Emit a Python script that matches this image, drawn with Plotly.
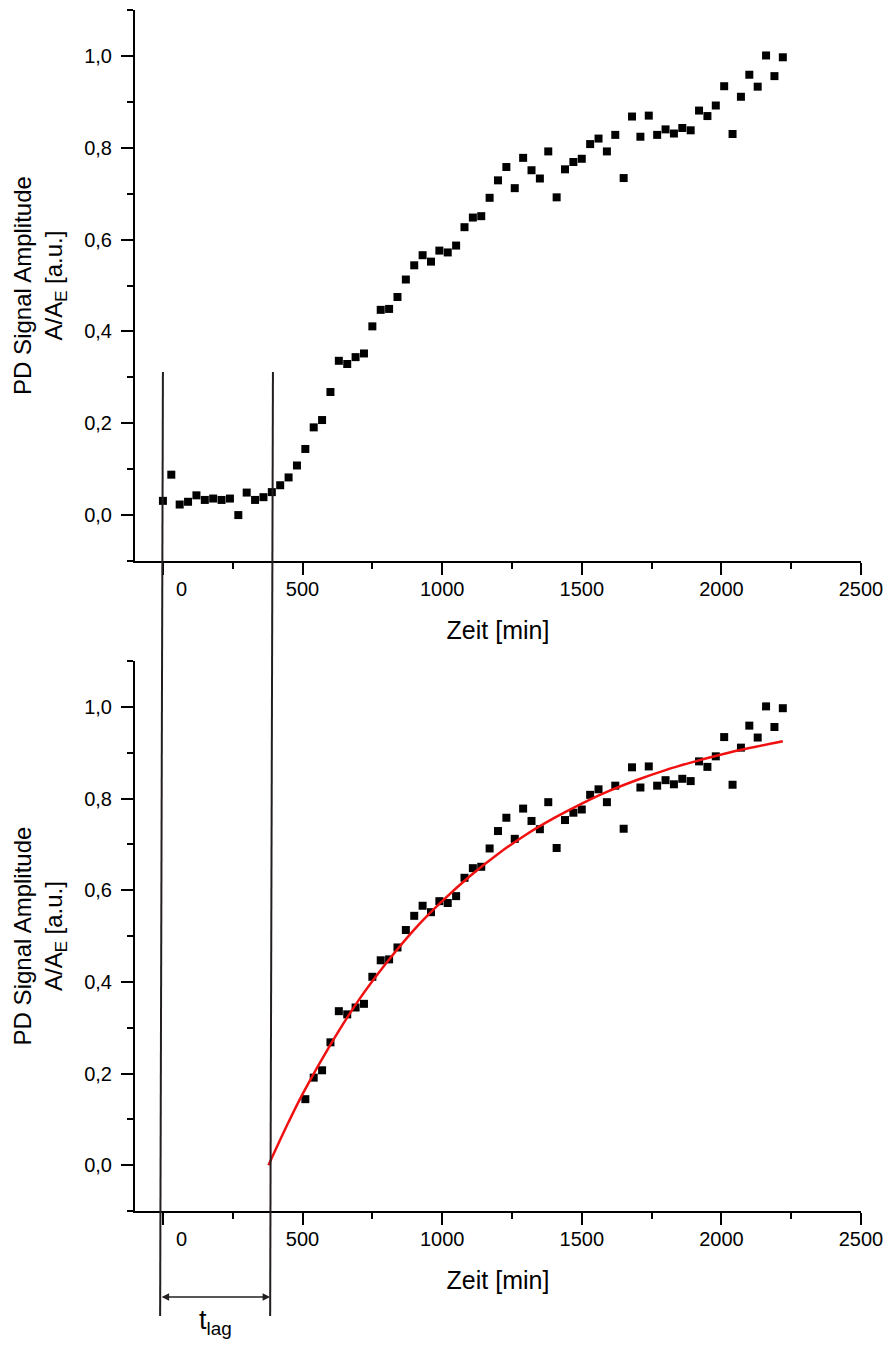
import plotly.graph_objects as go

# ---------------- data ----------------
time_min = [0, 30, 60, 90, 120, 150, 180, 210, 240, 270,
            300, 330, 360, 390, 420, 450, 480, 510, 540, 570,
            600, 630, 660, 690, 720, 750, 780, 810, 840, 870,
            900, 930, 960, 990, 1020, 1050, 1080, 1110, 1140, 1170,
            1200, 1230, 1260, 1290, 1320, 1350, 1380, 1410, 1440, 1470,
            1500, 1530, 1560, 1590, 1620, 1650, 1680, 1710, 1740, 1770,
            1800, 1830, 1860, 1890, 1920, 1950, 1980, 2010, 2040, 2070,
            2100, 2130, 2160, 2190, 2220]
amplitude = [0.031, 0.088, 0.023, 0.029, 0.043, 0.033, 0.036, 0.033, 0.036, 0.000,
             0.049, 0.033, 0.039, 0.050, 0.065, 0.082, 0.108, 0.144, 0.191, 0.207,
             0.268, 0.336, 0.329, 0.344, 0.352, 0.411, 0.447, 0.449, 0.475, 0.513,
             0.544, 0.566, 0.552, 0.576, 0.572, 0.587, 0.627, 0.648, 0.651, 0.691,
             0.729, 0.758, 0.712, 0.778, 0.751, 0.733, 0.792, 0.692, 0.753, 0.769,
             0.776, 0.808, 0.820, 0.792, 0.828, 0.734, 0.868, 0.824, 0.870, 0.828,
             0.840, 0.831, 0.843, 0.838, 0.881, 0.869, 0.892, 0.934, 0.830, 0.911,
             0.959, 0.933, 1.001, 0.956, 0.997]

# fitted curve (red)
fit_time = [378, 450, 500, 600, 700, 800, 900, 1000, 1100, 1200, 1300,
            1400, 1500, 1600, 1700, 1800, 1900, 2000, 2100, 2220]
fit_amp = [0.000, 0.094, 0.155, 0.263, 0.359, 0.441, 0.514, 0.576, 0.631, 0.679, 0.721,
           0.757, 0.789, 0.817, 0.841, 0.862, 0.880, 0.896, 0.910, 0.925]

fit_from = 500  # lower panel shows the points after the lag phase

# lag markers (x at top end / bottom end of the drawn lines)
lag_line_top = [0, 394]
lag_line_bottom = [-10, 384]

x_tickvals = [0, 500, 1000, 1500, 2000, 2500]
x_ticktext = ["", "500", "1000", "1500", "2000", "2500"]
zero_label_x = 65
y_tickvals = [0.0, 0.2, 0.4, 0.6, 0.8, 1.0]
y_ticktext = ["0,0", "0,2", "0,4", "0,6", "0,8", "1,0"]

x_title = "Zeit [min]"
y_title = "PD Signal Amplitude<br>A/A<sub>E</sub> [a.u.]"

# ---------------- figure ----------------
FONT = "Liberation Sans, Arial, sans-serif"
W, H = 893, 1349
ML, MR, MT, MB = 135, 32, 10, 138

low_t = [t for t in time_min if t >= fit_from]
low_a = [a for t, a in zip(time_min, amplitude) if t >= fit_from]

fig = go.Figure()
marker = dict(symbol="square", size=8, color="black", line=dict(width=0))
fig.add_trace(go.Scatter(x=time_min, y=amplitude, mode="markers", marker=marker,
                         xaxis="x", yaxis="y"))
fig.add_trace(go.Scatter(x=low_t, y=low_a, mode="markers", marker=marker,
                         xaxis="x2", yaxis="y2"))
fig.add_trace(go.Scatter(x=fit_time, y=fit_amp, mode="lines",
                         line=dict(color="#f01010", width=2.5, shape="spline"),
                         xaxis="x2", yaxis="y2"))

xax = dict(range=[-100, 2500], showline=True, linecolor="black", linewidth=2,
           ticks="outside", ticklen=12, tickwidth=2, tickcolor="black",
           tickmode="array", tickvals=x_tickvals, ticktext=x_ticktext,
           minor=dict(tickmode="linear", tick0=0, dtick=250, ticks="outside", ticklen=6,
                      tickwidth=2, tickcolor="black"),
           showgrid=False, zeroline=False, ticklabelstandoff=-3,
           tickfont=dict(size=20, color="black", family=FONT),
           title=dict(text=x_title, font=dict(size=25, color="black", family=FONT), standoff=22))
yax = dict(range=[-0.1, 1.1], showline=True, linecolor="black", linewidth=2,
           ticks="outside", ticklen=12, tickwidth=2, tickcolor="black",
           tickmode="array", tickvals=y_tickvals, ticktext=y_ticktext,
           minor=dict(tickmode="linear", tick0=0, dtick=0.1, ticks="outside", ticklen=6,
                      tickwidth=2, tickcolor="black"),
           showgrid=False, zeroline=False, ticklabelstandoff=5,
           tickfont=dict(size=20, color="black", family=FONT),
           title=dict(text=y_title, font=dict(size=24, color="black", family=FONT), standoff=15))

plot_h = H - MT - MB
plot_w = W - ML - MR
def py(px):
    return (H - MB - px) / plot_h

top_dom = [py(561), 1.0]
bot_dom = [0.0, py(1211 - 550)]

fig.update_layout(
    width=W, height=H, margin=dict(l=ML, r=MR, t=MT, b=MB),
    paper_bgcolor="white", plot_bgcolor="white", showlegend=False,
    font=dict(family=FONT, color="black"),
    xaxis=dict(xax, anchor="y", domain=[0, 1]),
    yaxis=dict(yax, anchor="x", domain=top_dom),
    xaxis2=dict(xax, anchor="y2", domain=[0, 1]),
    yaxis2=dict(yax, anchor="x2", domain=bot_dom),
)

# small overhang of the x axis line left of the y axis (Origin style)
for yb in (top_dom[0], bot_dom[0]):
    fig.add_shape(type="line", xref="paper", yref="paper", x0=-6 / plot_w, x1=0, y0=yb, y1=yb,
                  line=dict(color="black", width=2))

# lag lines spanning both panels
for xt, xb in zip(lag_line_top, lag_line_bottom):
    fig.add_shape(type="line", xref="x2", yref="paper", x0=xt, y0=py(372), x1=xb, y1=py(1316),
                  line=dict(color="#231f20", width=2), layer="above")

# double arrow for t_lag
fig.add_annotation(xref="x2", yref="paper", x=lag_line_bottom[1], y=py(1297),
                   axref="x2", ayref="pixel", ax=lag_line_bottom[0], ay=0,
                   showarrow=True, arrowside="end+start", arrowhead=2, arrowsize=1,
                   arrowwidth=1.5, arrowcolor="#231f20", text="")
fig.add_annotation(xref="x2", yref="paper", x=(lag_line_bottom[0] + lag_line_bottom[1]) / 2,
                   y=py(1322), yanchor="middle", xanchor="center",
                   text="t<sub>lag</sub>", showarrow=False,
                   font=dict(size=27, color="black", family=FONT))

# "0" tick labels (offset to the right of the 0 tick in the original)
for yy in (py(589), py(1239)):
    fig.add_annotation(xref="x", yref="paper", x=zero_label_x, y=yy, text="0",
                       yanchor="middle", xanchor="center",
                       showarrow=False, font=dict(size=20, color="black", family=FONT))

fig.write_html("out.html", config={"displayModeBar": False},
               post_script="document.body.style.margin='0px';")
